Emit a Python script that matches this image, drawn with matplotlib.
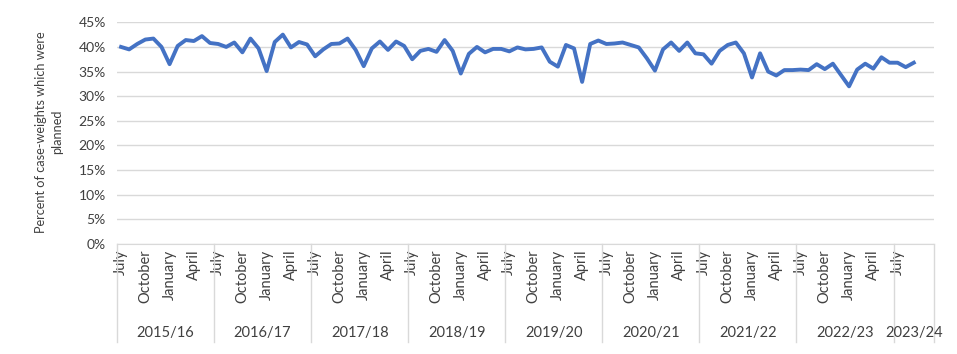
import matplotlib
matplotlib.use("Agg")
import matplotlib.pyplot as plt
import numpy as np
from matplotlib.ticker import PercentFormatter

# 财年（7月起）每月计划病例权重占比，单位 %
years = ["2015/16", "2016/17", "2017/18", "2018/19", "2019/20",
         "2020/21", "2021/22", "2022/23", "2023/24"]
months_per_year = [12, 12, 12, 12, 12, 12, 12, 12, 5]
month_labels = ["July", "", "", "October", "", "", "January", "", "", "April", "", ""]

planned_pct = [
    # 2015/16
    40.0, 39.5, 40.6, 41.5, 41.7, 40.0, 36.5, 40.2, 41.4, 41.2, 42.2, 40.8,
    # 2016/17
    40.6, 40.0, 40.9, 38.9, 41.7, 39.7, 35.1, 41.0, 42.5, 39.9, 41.0, 40.5,
    # 2017/18
    38.1, 39.5, 40.6, 40.7, 41.7, 39.4, 36.1, 39.7, 41.1, 39.4, 41.1, 40.2,
    # 2018/19
    37.5, 39.2, 39.6, 39.0, 41.4, 39.2, 34.6, 38.6, 40.0, 38.9, 39.6, 39.6,
    # 2019/20
    39.1, 39.9, 39.5, 39.6, 39.9, 37.0, 36.0, 40.4, 39.7, 32.9, 40.6, 41.3,
    # 2020/21
    40.6, 40.7, 40.9, 40.4, 39.9, 37.7, 35.2, 39.5, 40.9, 39.2, 40.9, 38.7,
    # 2021/22
    38.5, 36.6, 39.2, 40.4, 40.9, 38.7, 33.8, 38.7, 35.0, 34.2, 35.3, 35.3,
    # 2022/23
    35.4, 35.3, 36.5, 35.5, 36.6, 34.3, 32.0, 35.4, 36.6, 35.6, 37.9, 36.8,
    # 2023/24
    36.8, 35.9, 36.8, None, None,
]

text_color = "#404040"
grid_color = "#d9d9d9"
plt.rcParams["font.family"] = ["Lato", "DejaVu Sans"]

values = np.array([np.nan if v is None else v for v in planned_pct], dtype=float)
x = np.arange(len(values))

fig = plt.figure(figsize=(9.57, 3.54), dpi=100)
ax = fig.add_axes([117 / 957, 110 / 354, 817 / 957, 221.7 / 354])

ax.plot(x, values, color="#4472C4", linewidth=2.8, solid_joinstyle="round")

ax.set_xlim(-0.5, len(values) - 0.5)
ax.set_ylim(0, 45)
ax.set_yticks(np.arange(0, 46, 5))
ax.yaxis.set_major_formatter(PercentFormatter(decimals=0))
ax.grid(axis="y", color=grid_color, linewidth=1)
ax.set_axisbelow(True)
for side in ["left", "right", "top"]:
    ax.spines[side].set_visible(False)
ax.spines["bottom"].set_color(grid_color)
ax.tick_params(axis="y", length=0, labelsize=10, colors=text_color, pad=8)

# 月份刻度：只标有数据的月份
tick_pos, tick_lab = [], []
start = 0
for n in months_per_year:
    for m in range(n):
        if month_labels[m] and not np.isnan(values[start + m]):
            tick_pos.append(start + m)
            tick_lab.append(month_labels[m])
    start += n
ax.set_xticks(tick_pos)
ax.set_xticklabels(tick_lab, rotation=90, fontsize=10.5, color=text_color)
ax.tick_params(axis="x", length=0, pad=4)

# 年度分组标签与分隔线
trans = ax.get_xaxis_transform()
start = 0
bounds = [-0.5]
for yr, n in zip(years, months_per_year):
    ax.text(start + (n - 1) / 2, -0.40, yr, transform=trans, ha="center",
            va="center", fontsize=10.5, color=text_color)
    start += n
    bounds.append(start - 0.5)
for b in bounds:
    ax.axvline(b, ymin=-0.44, ymax=0, color=grid_color, linewidth=1, clip_on=False)

fig.text(49 / 957, 1 - 132 / 354, "Percent of case-weights which were\nplanned",
         rotation=90, ha="center", va="center", fontsize=9.2, color=text_color,
         multialignment="center", linespacing=1.45)

fig.savefig("out.png", dpi=100)
